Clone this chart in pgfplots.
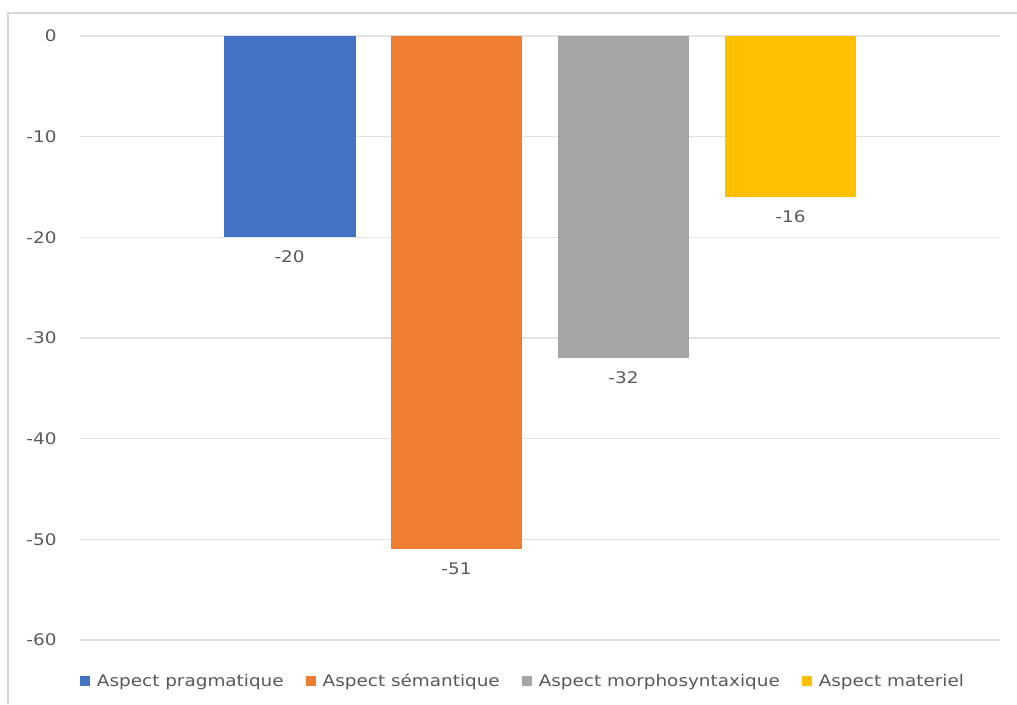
\documentclass[border=0pt]{standalone}
\usepackage{fontspec}
\setmainfont[FakeStretch=1.15]{DejaVu Sans}
\usepackage{pgfplots}
\pgfplotsset{compat=1.18}
\definecolor{cblue}{HTML}{4472C4}
\definecolor{corange}{HTML}{ED7D31}
\definecolor{cgray}{HTML}{A5A5A5}
\definecolor{cyellow}{HTML}{FFC000}
\definecolor{ctext}{HTML}{595959}
\definecolor{cgrid}{HTML}{E3E3E3}
\definecolor{cborder}{HTML}{D6D6D6}
\begin{document}
\begin{tikzpicture}[x=1pt,y=1pt]
\useasboundingbox (0,0) rectangle (1017,704);
\draw[cborder, line width=1.5pt] (8,0) -- (8,691) -- (1017,691);
\begin{axis}[
  at={(80pt,64pt)}, anchor=south west,
  scale only axis, width=920pt, height=604pt,
  xmin=-1.255, xmax=4.255, ymin=-60, ymax=0,
  ytick={-60,-50,...,0}, xtick=\empty,
  axis line style={draw=none},
  ymajorgrids, grid style={cgrid, line width=1.5pt},
  major tick length=0pt,
  /pgf/number format/assume math mode=true,
  yticklabel style={font=\fontsize{16}{18}\selectfont, text=ctext, xshift=-20pt},
  ybar, bar width=0.79, bar shift=0pt,
  nodes near coords,
  nodes near coords style={anchor=north, yshift=-10pt, font=\fontsize{16}{18}\selectfont, text=ctext, /pgf/number format/assume math mode=true},
  legend style={at={(rel axis cs:0.4815,-0.068)}, anchor=center, legend columns=4, draw=none,
     font=\fontsize{16}{18}\selectfont, text=ctext,
     /tikz/every even column/.append style={column sep=20pt}},
  legend image code/.code={\fill[#1] (0pt,-5pt) rectangle (10pt,5pt);},
]
\addplot[fill=cblue, draw=none] coordinates {(0,-20)};
\addlegendentry{\hspace*{5pt}Aspect pragmatique}
\addplot[fill=corange, draw=none] coordinates {(1,-51)};
\addlegendentry{\hspace*{5pt}Aspect sémantique}
\addplot[fill=cgray, draw=none] coordinates {(2,-32)};
\addlegendentry{\hspace*{5pt}Aspect morphosyntaxique}
\addplot[fill=cyellow, draw=none] coordinates {(3,-16)};
\addlegendentry{\hspace*{5pt}Aspect materiel}
\end{axis}
\end{tikzpicture}
\end{document}
